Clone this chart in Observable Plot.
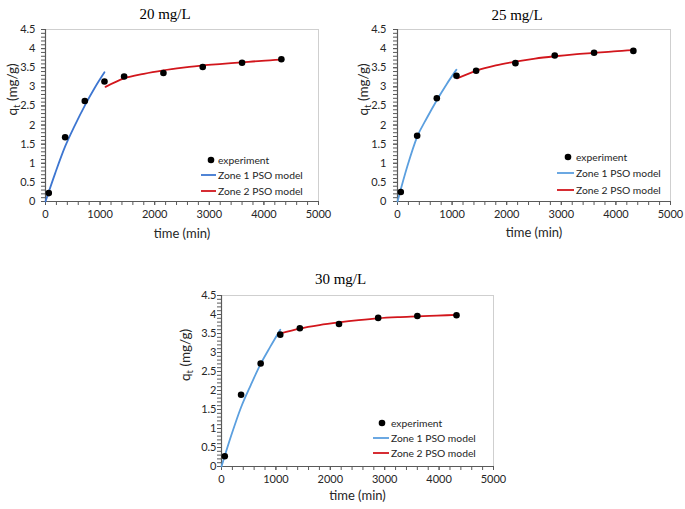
<!DOCTYPE html>
<html>
<head>
<meta charset="utf-8">
<script src="https://cdn.jsdelivr.net/npm/d3@7"></script>
<script src="https://cdn.jsdelivr.net/npm/@observablehq/plot@0.6"></script>
<style>
  html, body { margin: 0; padding: 0; background: #fff; }
  #chart { position: relative; width: 685px; height: 509px; overflow: hidden; background: #fff; }
  #chart svg { position: absolute; }
  .legend { position: absolute; font-family: Lato, "Open Sans", sans-serif; font-size: 10.3px; color: #262626; }
  .legend .row { position: absolute; white-space: nowrap; height: 12px; line-height: 12px; }
</style>
</head>
<body>
<div id="chart"></div>
<script>
// ---- data ----
const titles = ["20 mg/L", "25 mg/L", "30 mg/L"];
const times = [60, 360, 720, 1080, 1440, 2160, 2880, 3600, 4320];
const exp20 = [0.22, 1.68, 2.63, 3.14, 3.27, 3.36, 3.52, 3.63, 3.72];
const exp25 = [0.25, 1.72, 2.70, 3.29, 3.42, 3.62, 3.82, 3.89, 3.94];
const exp30 = [0.27, 1.89, 2.71, 3.47, 3.64, 3.75, 3.91, 3.96, 3.98];

const zone1T = [0, 180, 360, 540, 720, 900, 1080];
const zone1_20 = [0, 0.75, 1.44, 2.00, 2.51, 2.97, 3.38];
const zone1_25 = [0, 0.92, 1.69, 2.19, 2.65, 3.07, 3.45];
const zone1_30 = [0, 0.82, 1.56, 2.15, 2.70, 3.16, 3.60];

const zone2T_20 = [1100, 1440, 1800, 2160, 2520, 2880, 3240, 3600, 3960, 4320];
const zone2_20 = [3.00, 3.22, 3.34, 3.43, 3.50, 3.56, 3.60, 3.64, 3.68, 3.71];
const zone2T_25 = [1090, 1440, 1800, 2160, 2520, 2880, 3240, 3600, 3960, 4320];
const zone2_25 = [3.22, 3.42, 3.56, 3.66, 3.74, 3.80, 3.85, 3.89, 3.93, 3.96];
const zone2T_30 = [1075, 1440, 1800, 2160, 2520, 2880, 3240, 3600, 3960, 4320];
const zone2_30 = [3.50, 3.63, 3.72, 3.79, 3.85, 3.90, 3.93, 3.95, 3.97, 3.99];

const xMajor = [0, 1000, 2000, 3000, 4000, 5000];
const xMinor = d3.range(0, 5001, 200);
const yMajor = [0, 0.5, 1, 1.5, 2, 2.5, 3, 3.5, 4, 4.5];
const yMinor = d3.range(0, 46).map(i => i / 10);
const legendLabels = ["experiment", "Zone 1 PSO model", "Zone 2 PSO model"];

// ---- layout / style ----
const red = "#d2161c";
const panels = [
  {title: titles[0], exp: exp20, z1: zone1_20, z2T: zone2T_20, z2: zone2_20, blue: "#3d76d1",
   left: 0, top: 0, w: 340, h: 250, ml: 45, mr: 22, mt: 29, mb: 49, pad: 6, titleDy: -21, xDy: 36, yDx: -33,
   leg: {dotX: 211, swL: 201, swR: 216, textX: 218, rows: [160, 174.5, 191]}},
  {title: titles[1], exp: exp25, z1: zone1_25, z2T: zone2T_25, z2: zone2_25, blue: "#5b9fdf",
   left: 340, top: 0, w: 345, h: 250, ml: 57, mr: 15, mt: 29, mb: 49, pad: 7, titleDy: -20, xDy: 35, yDx: -34,
   leg: {dotX: 568, swL: 557, swR: 574, textX: 576, rows: [157, 173, 189.5]}},
  {title: titles[2], exp: exp30, z1: zone1_30, z2T: zone2T_30, z2: zone2_30, blue: "#5b9fdf",
   left: 170, top: 250, w: 340, h: 259, ml: 51, mr: 17, mt: 45, mb: 43, pad: 1, titleDy: -22, xDy: 33, yDx: -36,
   leg: {dotX: 382, swL: 373, swR: 389, textX: 391, rows: [423, 438, 453]}}
];

const chart = document.getElementById("chart");
const axisColor = "#595959";

for (const p of panels) {
  const pts = times.map((t, i) => ({t, q: p.exp[i]}));
  const z1 = zone1T.map((t, i) => ({t, q: p.z1[i]}));
  const z2 = p.z2T.map((t, i) => ({t, q: p.z2[i]}));
  const svg = Plot.plot({
    width: p.w, height: p.h,
    marginLeft: p.ml, marginRight: p.mr, marginTop: p.mt, marginBottom: p.mb,
    style: {fontFamily: "Lato, 'Open Sans', sans-serif", fontSize: "11px", color: "#262626", background: "transparent", overflow: "visible"},
    x: {domain: [0, 5000]},
    y: {domain: [0, 4.5]},
    marks: [
      Plot.frame({stroke: "#cfcfcf", strokeWidth: 1}),
      Plot.axisX({ticks: xMinor, tickSize: 4, tickFormat: () => "", label: null, stroke: axisColor}),
      Plot.axisX({ticks: xMajor, tickSize: 4, tickPadding: 5, tickFormat: d => String(d), label: null, stroke: axisColor, fill: "#262626"}),
      Plot.axisY({ticks: yMinor, tickSize: 4, tickFormat: () => "", label: null, stroke: axisColor}),
      Plot.axisY({ticks: yMajor, tickSize: 4, tickPadding: p.pad, tickFormat: d => String(d), label: null, stroke: axisColor, fill: "#262626"}),
      Plot.ruleX([0], {stroke: axisColor, strokeWidth: 1.2}),
      Plot.ruleY([0], {stroke: axisColor, strokeWidth: 1.2}),
      Plot.line(z1, {x: "t", y: "q", stroke: p.blue, strokeWidth: 1.8, curve: "monotone-x"}),
      Plot.line(z2, {x: "t", y: "q", stroke: red, strokeWidth: 1.8, curve: "monotone-x"}),
      Plot.dot(pts, {x: "t", y: "q", r: 3.3, fill: "#000", stroke: "none"}),
      Plot.text([p.title], {text: d => d, frameAnchor: "top", dy: p.titleDy, dx: -17, fontFamily: "'Liberation Serif', 'Times New Roman', serif", fontSize: 15, fill: "#000"}),
      Plot.text(["time (min)"], {text: d => d, frameAnchor: "bottom", dy: p.xDy, fontSize: 13, fill: "#262626"}),
      Plot.text(["qt (mg/g)"], {text: d => d, frameAnchor: "left", dx: p.yDx, rotate: -90, fontSize: 13.5, fill: "#262626"})
    ]
  });
  svg.style.left = p.left + "px";
  svg.style.top = p.top + "px";
  d3.select(svg).selectAll("text").filter(function() { return this.textContent === "qt (mg/g)"; })
    .each(function() {
      this.textContent = "";
      const s = d3.select(this);
      s.append("tspan").text("q");
      s.append("tspan").attr("dy", 3).attr("font-size", 9.5).text("t");
      s.append("tspan").attr("dy", -3).text(" (mg/g)");
    });
  chart.appendChild(svg);

  // legend
  const L = p.leg;
  const leg = document.createElement("div");
  leg.className = "legend";
  leg.style.left = "0px"; leg.style.top = "0px";
  legendLabels.forEach((lab, i) => {
    const row = document.createElement("div");
    row.className = "row";
    row.style.top = (L.rows[i] - 6) + "px";
    row.style.left = L.textX + "px";
    row.textContent = lab;
    leg.appendChild(row);
    const sw = document.createElementNS("http://www.w3.org/2000/svg", "svg");
    const x0 = L.swL - 2, wSw = L.swR - L.swL + 4;
    sw.setAttribute("width", wSw); sw.setAttribute("height", 10);
    sw.style.position = "absolute";
    sw.style.left = x0 + "px"; sw.style.top = (L.rows[i] - 5) + "px";
    if (i === 0) {
      const c = document.createElementNS("http://www.w3.org/2000/svg", "circle");
      c.setAttribute("cx", L.dotX - x0); c.setAttribute("cy", 5); c.setAttribute("r", 3.3); c.setAttribute("fill", "#000");
      sw.appendChild(c);
    } else {
      const ln = document.createElementNS("http://www.w3.org/2000/svg", "line");
      ln.setAttribute("x1", 2); ln.setAttribute("x2", wSw - 2); ln.setAttribute("y1", 5); ln.setAttribute("y2", 5);
      ln.setAttribute("stroke", i === 1 ? p.blue : red); ln.setAttribute("stroke-width", 1.8);
      sw.appendChild(ln);
    }
    leg.appendChild(sw);
  });
  chart.appendChild(leg);
}
</script>
</body>
</html>
